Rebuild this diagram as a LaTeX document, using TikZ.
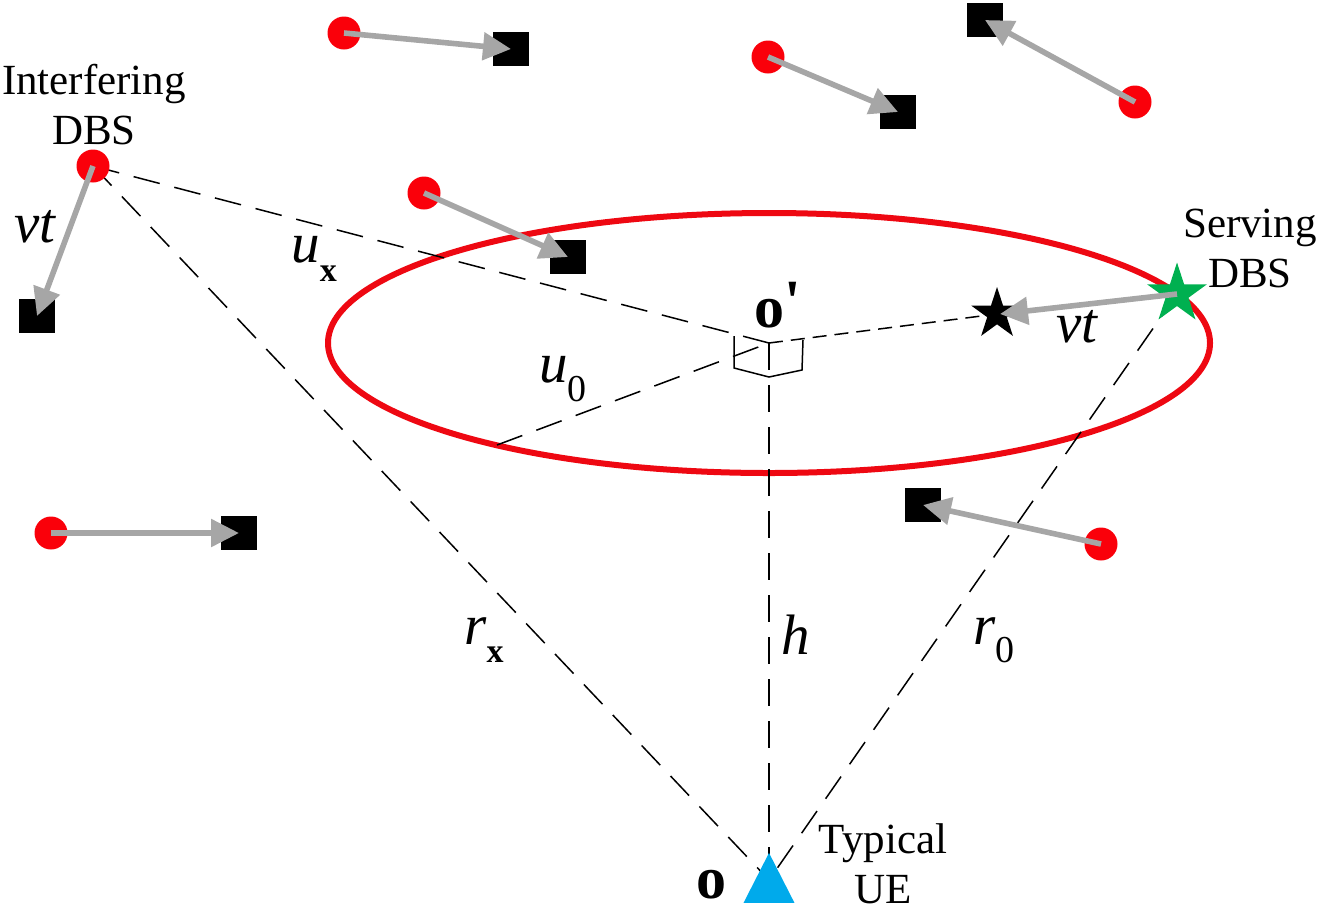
\documentclass[tikz,border=0pt]{standalone}
\usepackage{fontspec}
\setmainfont{Liberation Serif}
\newfontfamily\primefont{Liberation Serif}
\usetikzlibrary{arrows.meta,shapes.geometric}
\newcommand{\subbold}[1]{\raisebox{-0.32em}{\fontsize{17}{17}\selectfont\upshape\bfseries #1}}
\newcommand{\subreg}[1]{\raisebox{-0.32em}{\fontsize{19}{19}\selectfont\upshape #1}}
\definecolor{dbsred}{RGB}{250,0,10}
\definecolor{arrowgray}{RGB}{166,166,166}
\definecolor{ringred}{RGB}{238,8,18}
\definecolor{starGreen}{RGB}{0,176,80}
\definecolor{ueblue}{RGB}{0,170,235}
\tikzset{
  dbs/.style={circle,fill=dbsred,inner sep=0pt,minimum size=16.5pt},
  sq/.style={rectangle,fill=black,inner sep=0pt,minimum width=18pt,minimum height=17pt},
  mover/.style={draw=arrowgray,line width=2.8pt,-{Triangle[length=14pt,width=13.5pt]}},
  dashline/.style={draw=black,line width=0.75pt,dash pattern=on 13.5pt off 7.5pt},
  finedash/.style={draw=black,line width=0.75pt,dash pattern=on 7pt off 4pt},
  lab/.style={font=\fontsize{21.5}{25}\selectfont,align=center,inner sep=0pt},
  mathlab/.style={font=\fontsize{28.5}{30}\selectfont\itshape,inner sep=0pt},
  boldlab/.style={font=\fontsize{30}{32}\selectfont\bfseries,inner sep=0pt},
  fivestar/.style={star,star points=5,star point ratio=2.618,inner sep=0pt},
  uemark/.style={isosceles triangle,shape border rotate=90,isosceles triangle apex angle=54,isosceles triangle stretches=false,fill=ueblue,inner sep=0pt,minimum height=25pt,anchor=apex},
}
\begin{document}
\begin{tikzpicture}[x=0.5pt,y=-0.5pt]
\useasboundingbox (0,0) rectangle (1320,911);
% ring
\node (ring) at (769,343) [ellipse,draw=ringred,line width=3pt,inner sep=0pt,minimum width=441pt,minimum height=130pt] {};
% reference points
\coordinate (oc) at (769,343);
\coordinate (ringpt) at (497,445);
\coordinate (uec) at (769,880);
\coordinate (d7c) at (93,166);
\coordinate (gc) at (1177,294);
\coordinate (bc) at (997,314);
\coordinate (m1) at (734,336);
\coordinate (m2) at (734,368);
\coordinate (m3) at (769,377);
\coordinate (m4) at (802,370);
\coordinate (m5) at (803,340);
% dashed connectors
\draw[dashline] (d7c) -- (oc);
\draw[dashline] (d7c) -- (uec);
\draw[dashline] (oc) -- (uec);
\draw[dashline] (ringpt) -- (oc);
\draw[finedash] (oc) -- (bc);
\draw[dashline] (gc) -- (uec);
% right-angle marks
\draw[black,line width=0.75pt,line join=miter] (m1) -- (m2) -- (m3) -- (m4) -- (m5);
% squares
\node[sq] (s1) at (511,49) {};
\node[sq] (s2) at (898,112) {};
\node[sq] (s3) at (985,20) {};
\node[sq] (s4) at (568,257) {};
\node[sq] (s5) at (37,316) {};
\node[sq] (s6) at (239,533) {};
\node[sq] (s7) at (923,505) {};
% UE, stars
\node[uemark] (ue) at (769,852) {};
\node[fivestar,fill=black,minimum size=27pt] (bstar) at (bc) {};
\node[fivestar,fill=starGreen,minimum size=31.5pt] (gstar) at (gc) {};
% DBS circles
\node[dbs] (d1) at (344,33) {};
\node[dbs] (d2) at (768,57) {};
\node[dbs] (d3) at (1135,102) {};
\node[dbs] (d4) at (424,193) {};
\node[dbs] (d5) at (51,533) {};
\node[dbs] (d6) at (1101,544) {};
\node[dbs] (d7) at (d7c) {};
% movement arrows
\draw[mover] (d1.center) -- (s1.center);
\draw[mover] (d2.center) -- (s2.center);
\draw[mover] (d3.center) -- (s3.center);
\draw[mover] (d4.center) -- (s4.center);
\draw[mover] (d5.center) -- (s6.center);
\draw[mover] (d6.center) -- (s7.center);
\draw[mover] (d7.center) -- (s5.center);
\draw[mover] (gstar.center) -- ([xshift=1.5pt]bstar.center);
% labels
\node[lab] (l1) at (94,104.5) {Interfering\\DBS};
\node[lab] (l2) at (1250,248.5) {Serving\\DBS};
\node[lab] (l3) at (883,864) {Typical\\UE};
\node[mathlab] (l4) at (35,227) {vt};
\node[mathlab] (l5) at (1077,327) {vt};
\node[mathlab] (l6) at (314,259) {u\subbold{x}};
\node[mathlab] (l7) at (563,379) {u\subreg{0}};
\node[mathlab] (l8) at (484,640) {r\subbold{x}};
\node[mathlab] (l9) at (796,635) {h};
\node[mathlab] (l10) at (994,640) {r\subreg{0}};
\node[boldlab,anchor=base west] (l11) at (754,327) {o\raisebox{0.1em}{\primefont\bfseries\char"27}};
\node[boldlab] (l12) at (711,885) {o};
\end{tikzpicture}
\end{document}
